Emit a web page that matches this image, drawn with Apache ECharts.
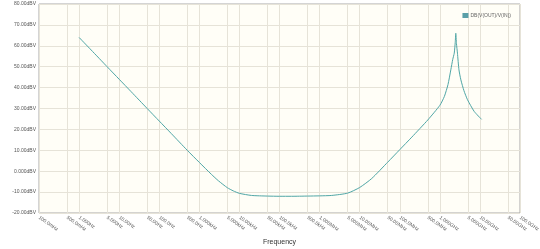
<!DOCTYPE html>
<html>
<head>
<meta charset="utf-8">
<script src="https://cdn.jsdelivr.net/npm/echarts@6/dist/echarts.min.js"></script>
<style>
  html, body { margin: 0; padding: 0; background: #fff; }
  #chart { width: 540px; height: 249px; }
</style>
</head>
<body>
<div id="chart"></div>
<script>
// frequency points (Hz) and gain (dB)
var freqHz = [1, 2, 5, 10, 20, 50, 100, 200, 500, 1e3, 2e3, 3e3, 5e3, 7e3, 1e4, 2e4, 5e4,
    1e5, 2e5, 5e5, 1e6, 2e6, 5e6, 1e7, 2e7, 5e7, 1e8, 2e8, 5e8, 1e9, 1.3e9, 1.6e9, 1.88e9,
    2.1e9, 2.29e9, 2.42e9, 2.5e9, 2.6e9, 2.75e9, 3e9, 3.35e9, 4e9, 4.9e9, 7.2e9, 1.1e10];
var gainDb = [64.0, 58.0, 50.0, 44.0, 38.0, 30.0, 24.0, 18.0, 10.0, 4.2, -1.5, -4.6, -7.9, -9.4, -10.6, -11.6, -11.9,
    -12.0, -12.0, -11.9, -11.8, -11.6, -10.5, -7.8, -3.5, 4.3, 10.3, 16.3, 24.5, 31.5, 35.8, 41.5, 48.5,
    53.5, 56.5, 61.5, 66.0, 61.0, 56.5, 48.5, 43.7, 38.5, 34.2, 28.6, 24.8];

var tickFreqs = [0.1, 0.5, 1, 5, 10, 50, 100, 500, 1e3, 5e3, 1e4, 5e4, 1e5, 5e5, 1e6, 5e6,
    1e7, 5e7, 1e8, 5e8, 1e9, 5e9, 1e10, 5e10, 1e11];
var tickLabels = ['100.0mHz', '500.0mHz', '1.000Hz', '5.000Hz', '10.00Hz', '50.00Hz', '100.0Hz', '500.0Hz',
    '1.000kHz', '5.000kHz', '10.00kHz', '50.00kHz', '100.0kHz', '500.0kHz', '1.000MHz', '5.000MHz',
    '10.00MHz', '50.00MHz', '100.0MHz', '500.0MHz', '1.000GHz', '5.000GHz', '10.00GHz', '50.00GHz', '100.0GHz'];
var yLabels = ['-20.00dBV', '-10.00dBV', '0.000dBV', '10.00dBV', '20.00dBV', '30.00dBV',
    '40.00dBV', '50.00dBV', '60.00dBV', '70.00dBV', '80.00dBV'];

var seriesName = 'DB(V(OUT)/V(IN))';

(function () {
    "use strict";

    var chart = echarts.init(document.getElementById('chart'));

    // x is plotted as log10(f) on a value axis
    var tickPos = tickFreqs.map(function (f) { return Math.log10(f); });
    var points = freqHz.map(function (f, i) { return [Math.log10(f), gainDb[i]]; });

    function xLabel(v) {
        var best = 0;
        for (var i = 1; i < tickPos.length; i++) {
            if (Math.abs(tickPos[i] - v) < Math.abs(tickPos[best] - v)) {
                best = i;
            }
        }
        return tickLabels[best];
    }

    var gridColor = '#e6e3d8';
    var labelColor = '#555';

    chart.setOption({
        animation: false,
        textStyle: { fontFamily: 'Liberation Sans, Arial, sans-serif' },
        grid: {
            left: 39, right: 20, top: 4, bottom: 36,
            outerBoundsMode: 'none',
            containLabel: false,
            show: true,
            backgroundColor: '#fffef7',
            borderColor: '#a8a8a8',
            borderWidth: 1
        },
        legend: {
            right: 24, top: 8,
            itemWidth: 6, itemHeight: 5, itemGap: 2,
            icon: 'rect',
            textStyle: { fontSize: 5, color: '#666', padding: [0, 0, 0, -3] },
            data: [seriesName]
        },
        xAxis: {
            type: 'value',
            min: -1, max: 11, interval: 1,
            name: 'Frequency',
            nameLocation: 'middle',
            nameGap: 26,
            nameTextStyle: { fontSize: 7, color: '#333' },
            axisLine: { show: false },
            axisTick: { show: false, customValues: tickPos },
            splitLine: { show: true, lineStyle: { color: gridColor, width: 1 } },
            axisLabel: {
                customValues: tickPos,
                rotate: -35,
                fontSize: 5,
                color: labelColor,
                margin: 4,
                formatter: xLabel
            }
        },
        yAxis: {
            type: 'value',
            min: -20, max: 80, interval: 10,
            name: 'dBV',
            nameLocation: 'middle',
            nameGap: 33,
            nameRotate: 90,
            nameTextStyle: { fontSize: 6, color: '#333' },
            axisLine: { show: false },
            axisTick: { show: false },
            splitLine: { show: true, lineStyle: { color: gridColor, width: 1 } },
            axisLabel: {
                fontSize: 5,
                color: labelColor,
                margin: 3,
                formatter: function (v) { return yLabels[Math.round((v + 20) / 10)]; }
            }
        },
        series: [{
            name: seriesName,
            type: 'line',
            data: points,
            showSymbol: false,
            smooth: 0.2,
            lineStyle: { color: '#4fa6a6', width: 1 },
            itemStyle: { color: '#5a9fa8' }
        }]
    });
})();
</script>
</body>
</html>
